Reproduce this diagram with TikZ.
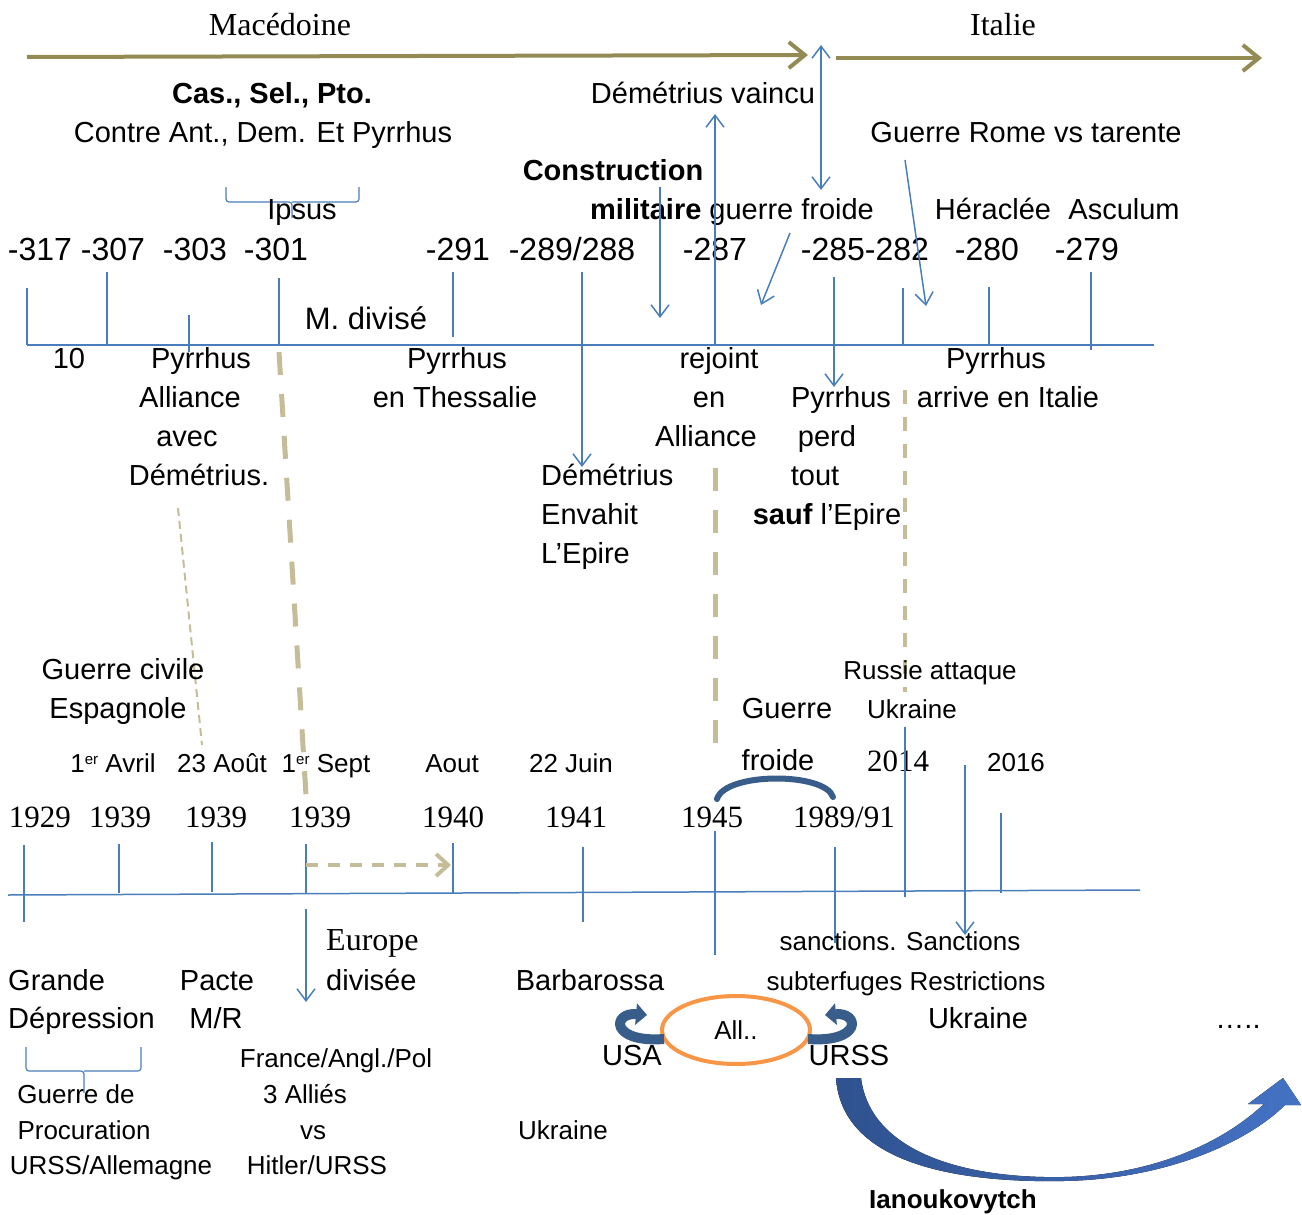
\documentclass[tikz,border=0pt]{standalone}
\usepackage{fontspec}
\setmainfont{Liberation Serif}
\setsansfont{Liberation Sans}
\usepackage{xcolor}
\usepackage{tikz}
\usetikzlibrary{shapes.geometric, arrows.meta}
\definecolor{tlblue}{HTML}{4A7EBB}
\definecolor{tlolive}{HTML}{948A54}
\definecolor{tlkhaki}{HTML}{C4BD97}
\definecolor{tlnavy}{HTML}{385D8A}
\definecolor{tlorange}{HTML}{F79646}
\definecolor{tldeep}{HTML}{2F528F}
\definecolor{tlbright}{HTML}{4472C4}
\newcommand{\fsz}[1]{\fontsize{#1}{#1}\selectfont}
\tikzstyle{lbl}    = [inner sep=0pt, anchor=base, font=\sffamily\fsz{29}]
\tikzstyle{lblw}   = [lbl, anchor=base west]
\tikzstyle{yr}     = [lbl, font=\sffamily\fsz{32}]
\tikzstyle{syr}    = [lbl, font=\rmfamily\fsz{31}]
\tikzstyle{sml}    = [lbl, font=\sffamily\fsz{26}]
\tikzstyle{tick}   = [draw=tlblue, line width=1.5pt]
\tikzstyle{barrow} = [tick, -{Straight Barb[length=12pt, width=18pt]}]
\tikzstyle{oarrow} = [draw=tlolive, line width=4pt,
                      -{Straight Barb[length=16pt, width=26pt]}]
\tikzstyle{kdash}  = [draw=tlkhaki, line width=5pt, dash pattern=on 23pt off 19pt]
\tikzstyle{ring}   = [draw=tlnavy, line width=10pt,
                      -{Triangle[length=11pt, width=21pt]}]

\begin{document}
\begin{tikzpicture}[x=1pt, y=-1pt]
  \useasboundingbox (0,0) rectangle (1302,1215);

  % regions
  \node[lbl, font=\rmfamily\fsz{32}] (mac) at (280,36) {Macédoine};
  \node[lbl, font=\rmfamily\fsz{32}] (ita) at (1003,36) {Italie};
  \draw[oarrow] (27,57) -- (808,55);
  \draw[oarrow] (836,58) -- (1262,58);
  \draw[tick, {Straight Barb[length=12pt, width=18pt]}-{Straight Barb[length=12pt, width=18pt]}]
    (821,45) -- (821,190);

  % antiquity: texts above the line
  \node[lbl, font=\sffamily\bfseries\fsz{29}] (cas) at (272,103) {Cas., Sel., Pto.};
  \node[lbl] (contre) at (263,142) {Contre Ant., Dem. Et Pyrrhus};
  \draw[tick, line width=1.2pt, rounded corners=3pt]
    (226,187) |- (292,202) -- (292,218);
  \draw[tick, line width=1.2pt, rounded corners=3pt]
    (292,202) -| (359,187);
  \node[lbl] (ipsus) at (302,219) {Ipsus};
  \node[lbl] (vaincu) at (703,103) {Démétrius vaincu};
  \node[lbl] (rome) at (1026,142) {Guerre Rome vs tarente};
  \node[lbl, font=\sffamily\bfseries\fsz{29}] (constr) at (613,180) {Construction};
  \node[lblw] (milit) at (590,219) {\textbf{militaire} guerre froide};
  \node[lbl] (hera) at (993,219) {Héraclée};
  \node[lbl] (ascu) at (1124,219) {Asculum};

  \foreach \x/\t [count=\i] in {40/-317, 113/-307, 195/-303, 276/-301, 458/-291,
      572/-289\slash 288, 715/-287, 865/-285-282, 987/-280, 1087/-279}
    \node[yr] (ay\i) at (\x,260) {\t};

  % antiquity: line and ticks
  \draw[tick] (27,345) -- (1154,345);
  \foreach \x/\a/\b in {27/288/345, 107/272/345, 189/315/352, 279/278/345,
      453/272/337, 903/288/345, 989/287/345, 1091/272/350}
    \draw[tick] (\x,\a) -- (\x,\b);
  \draw[barrow] (582,272) -- (582,467);
  \draw[barrow] (660,187) -- (660,318);
  \draw[barrow] (715,345) -- (715,114);
  \draw[barrow] (790,233) -- (761,305);
  \draw[barrow] (834,277) -- (834,387);
  \draw[barrow] (905,160) -- (926,306);
  \node[lbl, font=\sffamily\fsz{31}] (mdiv) at (366,329) {M. divisé};

  % antiquity: texts below the line
  \node[lbl] (dix) at (69,368) {10};
  \node[lbl] (pa1) at (201,368) {Pyrrhus};
  \node[lbl] (pa2) at (190,407) {Alliance};
  \node[lbl] (pa3) at (187,446) {avec};
  \node[lbl] (pa4) at (199,485) {Démétrius.};
  \node[lbl] (pt1) at (457,368) {Pyrrhus};
  \node[lbl] (pt2) at (455,407) {en Thessalie};
  \node[lblw] (de1) at (541,485) {Démétrius};
  \node[lblw] (de2) at (541,524) {Envahit};
  \node[lblw] (de3) at (541,563) {L’Epire};
  \node[lbl] (rj1) at (719,368) {rejoint};
  \node[lbl] (rj2) at (709,407) {en};
  \node[lbl] (rj3) at (706,446) {Alliance};
  \node[lbl] (pp1) at (841,407) {Pyrrhus};
  \node[lbl] (pp2) at (827,446) {perd};
  \node[lbl] (pp3) at (815,485) {tout};
  \node[lbl] (pp4) at (827,524) {\textbf{sauf} l’Epire};
  \node[lbl] (pi1) at (996,368) {Pyrrhus};
  \node[lbl] (pi2) at (1008,407) {arrive en Italie};

  % parallels
  \draw[draw=tlkhaki, line width=2pt, dash pattern=on 8pt off 5pt] (178,508) -- (202,745);
  \draw[kdash] (279,352) -- (306,795);
  \draw[kdash] (715,468) -- (715,745);
  \draw[draw=tlkhaki, line width=3.5pt, dash pattern=on 14pt off 13pt] (905,390) -- (905,692);

  % modern times: texts above the line
  \node[lbl] (gc1) at (123,679) {Guerre civile};
  \node[lbl] (gc2) at (118,718) {Espagnole};
  \node[sml] (ru1) at (930,679) {Russie attaque};
  \node[sml] (ru2) at (912,718) {Ukraine};
  \node[lbl] (gf1) at (787,718) {Guerre};
  \node[lbl] (gf2) at (778,770) {froide};
  \node[sml] (d1) at (113,772) {1\raisebox{8pt}{\fsz{15}er} Avril};
  \node[sml] (d2) at (222,772) {23 Août};
  \node[sml] (d3) at (326,772) {1\raisebox{8pt}{\fsz{15}er} Sept};
  \node[sml] (d4) at (452,772) {Aout};
  \node[sml] (d5) at (571,772) {22 Juin};
  \node[lbl, font=\rmfamily\fsz{31}] (y14) at (898,771) {2014};
  \node[sml] (y16) at (1016,771) {2016};
  \foreach \x/\t [count=\i] in {40/1929, 120/1939, 216/1939, 320/1939, 453/1940,
      576/1941, 712/1945, 844/1989\slash 91}
    \node[syr] (my\i) at (\x,827) {\t};
  \draw[draw=tlnavy, line width=6pt, line cap=round]
    (717,799) .. controls (725,772) and (825,772) .. (833,797);

  % modern times: line and ticks
  \draw[tick] (8,895) -- (1140,890);
  \foreach \x/\a/\b in {24/845/922, 119/844/893, 212/842/892, 306/844/893,
      453/843/893, 583/847/922, 715/831/955, 835/847/943, 905/727/897, 1001/813/893}
    \draw[tick] (\x,\a) -- (\x,\b);
  \draw[barrow] (306,909) -- (306,1002);
  \draw[barrow] (965,765) -- (965,935);
  \draw[draw=tlkhaki, line width=4pt, dash pattern=on 12pt off 10pt,
        -{Straight Barb[length=12pt, width=22pt]}] (306,865) -- (451,865);

  % modern times: texts below the line
  \node[lblw, font=\rmfamily\fsz{32}] (eu1) at (326,950) {Europe};
  \node[lblw] (eu2) at (326,990) {divisée};
  \node[lblw] (gd1) at (8,990) {Grande};
  \node[lblw] (gd2) at (8,1028) {Dépression};
  \node[lbl] (mr1) at (217,990) {Pacte};
  \node[lbl] (mr2) at (216,1028) {M/R};
  \node[lbl] (barb) at (590,990) {Barbarossa};
  \node[sml] (sa1) at (900,950) {sanctions. Sanctions};
  \node[sml] (sa2) at (906,990) {subterfuges Restrictions};
  \node[lbl] (sa3) at (978,1028) {Ukraine};
  \node[lbl] (dots) at (1238,1028) {…..};
  \draw[tick, line width=1.2pt, rounded corners=3pt]
    (26,1047) |- (84,1071) -- (84,1093);
  \draw[tick, line width=1.2pt, rounded corners=3pt]
    (84,1071) -| (141,1047);
  \node[sml] (gp1) at (76,1103) {Guerre de};
  \node[sml] (gp2) at (84,1139) {Procuration};
  \node[sml] (gp3) at (111,1174) {URSS/Allemagne};
  \node[sml] (al1) at (336,1067) {France/Angl./Pol};
  \node[sml] (al2) at (305,1103) {3 Alliés};
  \node[sml] (al3) at (313,1139) {vs};
  \node[sml] (al4) at (317,1174) {Hitler/URSS};
  \node[sml] (ukr) at (563,1139) {Ukraine};

  % alliance
  \node[ellipse, draw=tlorange, line width=4pt, minimum width=148pt,
        minimum height=68pt, inner sep=0pt, font=\sffamily\fsz{26}] (all) at (736,1030) {All..};
  \node[lbl] (usa) at (632,1065) {USA};
  \node[lbl] (urss) at (849,1065) {URSS};
  \draw[ring] (664,1039) .. controls (610,1043) and (612,1012) .. (647,1015);
  \draw[ring] (808,1039) .. controls (862,1043) and (860,1012) .. (825,1015);

  % Ianoukovytch
  \fill[left color=tldeep, right color=tlbright]
    (836,1078) .. controls (842,1165) and (960,1183) .. (1064,1181)
    .. controls (1170,1179) and (1250,1140) .. (1285,1105)
    -- (1301,1105) -- (1283,1078) -- (1248,1104) -- (1264,1104)
    .. controls (1220,1145) and (1150,1175) .. (1064,1177)
    .. controls (960,1179) and (870,1150) .. (861,1078) -- cycle;
  \node[sml, font=\sffamily\bfseries\fsz{26}] (iano) at (953,1208) {Ianoukovytch};
\end{tikzpicture}
\end{document}
